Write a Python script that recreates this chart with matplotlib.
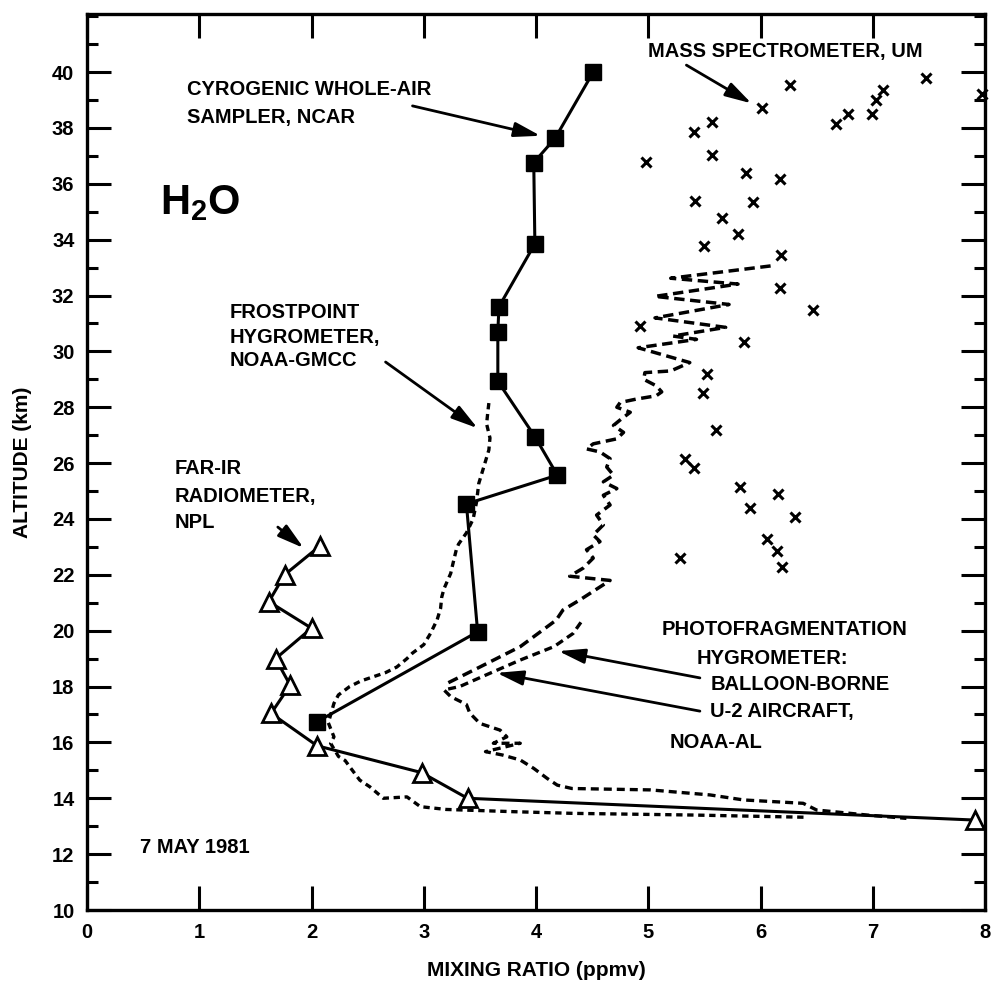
import matplotlib
matplotlib.use("Agg")
import matplotlib.pyplot as plt
from matplotlib.ticker import MultipleLocator

plt.rcParams["font.family"] = ["Liberation Sans", "DejaVu Sans"]
plt.rcParams["font.weight"] = "bold"
plt.rcParams["mathtext.fontset"] = "custom"
plt.rcParams["mathtext.rm"] = "Liberation Sans:bold"
plt.rcParams["mathtext.it"] = "Liberation Sans:bold"

# Cryogenic whole-air sampler (NCAR)
ncar_x = [4.51, 4.17, 3.98, 3.99, 3.67, 3.66, 3.66, 3.99, 4.19, 3.38, 3.48, 2.05]
ncar_alt = [40.0, 37.63, 36.76, 33.85, 31.6, 30.7, 28.93, 26.95, 25.57, 24.54, 19.96, 16.74]

# Far-IR radiometer (NPL)
npl_x = [2.08, 1.76, 1.62, 2.0, 1.68, 1.81, 1.64, 2.05, 2.98, 3.39, 7.91]
npl_alt = [23.05, 22.0, 21.04, 20.09, 19.0, 18.05, 17.04, 15.88, 14.92, 14.0, 13.22]

# Frostpoint hygrometer (NOAA-GMCC)
fp_x = [3.58, 3.57, 3.56, 3.59, 3.58, 3.53, 3.49, 3.47, 3.44, 3.38, 3.31, 3.29,
        3.26, 3.24, 3.18, 3.16, 3.15, 3.12, 3.06, 3.0, 2.9, 2.85, 2.76, 2.66,
        2.55, 2.44, 2.34, 2.24, 2.2, 2.15, 2.2, 2.17, 2.24, 2.3, 2.34, 2.43,
        2.52, 2.64, 2.85, 2.97, 3.2, 3.8, 4.33, 5.4, 6.41]
fp_alt = [28.15, 27.8, 27.4, 26.9, 26.47, 25.8, 25.27, 24.6, 24.0, 23.5, 23.1, 22.9,
          22.4, 22.05, 21.5, 21.2, 20.8, 20.4, 19.9, 19.5, 19.2, 19.0, 18.7, 18.5,
          18.35, 18.2, 18.0, 17.7, 17.4, 16.7, 16.2, 15.97, 15.5, 15.35, 15.13, 14.65,
          14.41, 14.0, 14.05, 13.7, 13.6, 13.52, 13.46, 13.4, 13.32]

# Photofragmentation hygrometer, balloon-borne
bal_x = [6.09, 5.2, 5.8, 5.06, 5.72, 5.06, 5.69, 5.22, 5.43, 4.91, 5.37, 5.2,
         4.97, 4.96, 5.07, 5.12, 5.07, 4.89, 4.75, 4.72, 4.84, 4.76, 4.69, 4.78,
         4.72, 4.51, 4.45, 4.57, 4.66, 4.63, 4.69, 4.6, 4.72, 4.6, 4.66, 4.54,
         4.6, 4.51, 4.57, 4.45, 4.51, 4.42, 4.3, 4.66, 4.39, 4.24, 4.18, 3.86,
         3.5, 3.2]
bal_alt = [33.06, 32.62, 32.41, 31.97, 31.68, 31.2, 30.86, 30.55, 30.43, 30.13, 29.6, 29.3,
           29.24, 29.0, 28.77, 28.55, 28.41, 28.29, 28.17, 28.0, 27.82, 27.58, 27.35, 27.1,
           26.87, 26.69, 26.51, 26.4, 26.16, 25.86, 25.57, 25.33, 25.09, 24.85, 24.5, 24.14,
           23.79, 23.43, 23.19, 22.9, 22.6, 22.24, 21.95, 21.8, 21.1, 20.74, 20.38, 19.43,
           18.7, 18.1]

# Photofragmentation hygrometer, U-2 aircraft (NOAA-AL)
u2_x = [4.4, 4.33, 4.16, 3.86, 3.62, 3.32, 3.18, 3.24, 3.38, 3.41, 3.5, 3.68,
        3.74, 3.62, 3.86, 3.55, 3.7, 3.86, 3.98, 4.1, 4.19, 4.32, 5.02, 5.55,
        5.85, 6.38, 6.5, 6.95, 7.3]
u2_alt = [20.3, 19.9, 19.43, 18.95, 18.53, 18.0, 17.88, 17.64, 17.36, 17.05, 16.68, 16.44,
          16.2, 15.97, 15.97, 15.67, 15.55, 15.37, 15.07, 14.71, 14.47, 14.35, 14.3, 14.12,
          13.94, 13.82, 13.58, 13.4, 13.28]

# Mass spectrometer (UM)
ms_x = [6.26, 6.01, 5.57, 5.41, 6.78, 6.67, 6.99, 7.03, 7.09, 7.47, 7.97, 4.98,
        5.57, 5.87, 6.17, 5.42, 5.93, 5.66, 5.8, 5.5, 6.18, 6.17, 6.47, 4.93,
        5.85, 5.52, 5.49, 5.6, 5.33, 5.41, 5.82, 6.16, 5.91, 6.31, 6.06, 6.15,
        6.19, 5.28]
ms_alt = [39.53, 38.7, 38.23, 37.86, 38.49, 38.14, 38.49, 38.99, 39.36, 39.79, 39.22, 36.79,
          37.04, 36.39, 36.18, 35.39, 35.35, 34.79, 34.21, 33.77, 33.45, 32.27, 31.5, 30.9,
          30.33, 29.18, 28.51, 27.2, 26.13, 25.83, 25.14, 24.9, 24.41, 24.08, 23.29, 22.86,
          22.28, 22.6]

x_ticks = [0, 1, 2, 3, 4, 5, 6, 7, 8]
y_ticks = list(range(10, 42, 2))

fig = plt.figure(figsize=(9.91, 9.84), dpi=100)
ax = fig.add_axes([87 / 991, 1 - 910 / 984, 898 / 991, 896 / 984])
ax.set_xlim(0, 8)
ax.set_ylim(10, 42.08)

lw = 2.2
ax.plot(fp_x, fp_alt, color="k", lw=2.4, ls=(0, (1.9, 1.4)), zorder=2)
ax.plot(bal_x, bal_alt, color="k", lw=2.5, ls=(0, (3.0, 1.6)), zorder=2)
ax.plot(u2_x, u2_alt, color="k", lw=2.4, ls=(0, (2.4, 1.5)), zorder=2)
ax.plot(ncar_x, ncar_alt, color="k", lw=lw, marker="s", ms=11.5, mfc="k", mec="k", zorder=3)
ax.plot(npl_x, npl_alt, color="k", lw=lw, marker="^", ms=13, mfc="white", mec="k",
        mew=2.0, zorder=3, clip_on=False)
ax.plot(ms_x, ms_alt, ls="none", marker="x", ms=7, mew=2.2, color="k", zorder=3, clip_on=False)

ax.set_xticks(x_ticks)
ax.set_yticks(y_ticks)
ax.yaxis.set_minor_locator(MultipleLocator(1))
ax.tick_params(axis="both", which="major", direction="in", length=17, width=2.2,
               top=True, right=True, labelsize=14.5, pad=9)
ax.tick_params(axis="y", which="minor", direction="in", length=8, width=2.2,
               left=True, right=True)
for s in ax.spines.values():
    s.set_linewidth(2.4)

ax.set_xlabel("MIXING RATIO (ppmv)", fontsize=15, fontweight="bold")
ax.xaxis.set_label_coords(0.5, -0.067)
ax.xaxis.label.set_va("center")
ax.set_ylabel("ALTITUDE (km)", fontsize=15, fontweight="bold")
ax.yaxis.set_label_coords(-0.072, 0.5)
ax.yaxis.label.set_va("center")

fs = 14.5
def lab(x, y, s, size=fs):
    ax.text(x, y, s, fontsize=size, fontweight="bold", ha="left", va="center")

lab(0.89, 39.36, "CYROGENIC WHOLE-AIR")
lab(0.89, 38.39, "SAMPLER, NCAR")
lab(5.0, 40.72, "MASS SPECTROMETER, UM")
ax.text(0.65, 35.3, r"$\mathrm{H_2O}$", fontsize=30, ha="left", va="center")
lab(1.27, 31.41, "FROSTPOINT")
lab(1.27, 30.48, "HYGROMETER,")
lab(1.27, 29.66, "NOAA-GMCC")
lab(0.78, 25.79, "FAR-IR")
lab(0.78, 24.82, "RADIOMETER,")
lab(0.78, 23.86, "NPL")
lab(0.47, 12.22, "7 MAY 1981")
lab(5.12, 20.03, "PHOTOFRAGMENTATION")
lab(5.43, 19.02, "HYGROMETER:")
lab(5.56, 18.06, "BALLOON-BORNE")
lab(5.55, 17.09, "U-2 AIRCRAFT,")
lab(5.19, 15.98, "NOAA-AL")

arrow = dict(arrowstyle="-|>,head_length=1.0,head_width=0.28", lw=2.0, color="k",
             shrinkA=0, shrinkB=0, mutation_scale=16)
ax.annotate("", xy=(4.04, 37.72), xytext=(2.9, 38.79), arrowprops=arrow)
ax.annotate("", xy=(5.92, 38.88), xytext=(5.34, 40.25), arrowprops=arrow)
ax.annotate("", xy=(3.48, 27.25), xytext=(2.66, 29.62), arrowprops=arrow)
ax.annotate("", xy=(1.93, 22.96), xytext=(1.70, 23.71), arrowprops=arrow)
ax.annotate("", xy=(4.2, 19.27), xytext=(5.46, 18.31), arrowprops=arrow)
ax.annotate("", xy=(3.65, 18.49), xytext=(5.46, 17.12), arrowprops=arrow)

fig.savefig("out.png", dpi=100, facecolor="white")
